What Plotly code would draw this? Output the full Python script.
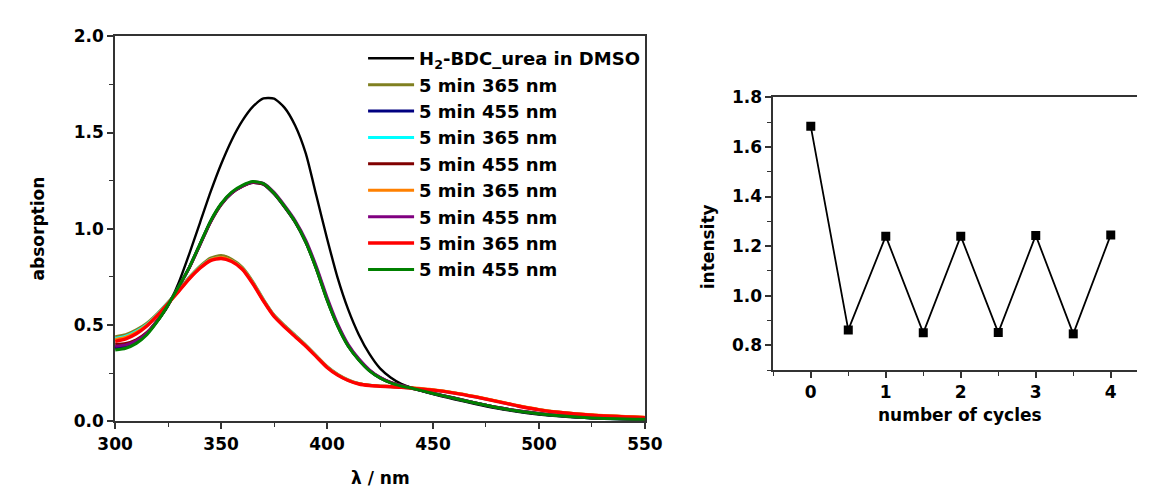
import plotly.graph_objects as go

# ---------------- data: UV-vis spectra ----------------
wavelength = [300, 305, 310, 315, 320, 325, 330, 335, 340, 345, 350, 355, 360, 365, 370,
              375, 380, 385, 390, 395, 400, 405, 410, 415, 420, 425, 430, 435, 440, 450,
              460, 470, 480, 490, 500, 510, 525, 550]

abs_dmso = [0.380, 0.390, 0.415, 0.455, 0.520, 0.600, 0.720, 0.870, 1.030, 1.190, 1.335, 1.460, 1.560, 1.634, 1.677,
            1.676, 1.628, 1.535, 1.390, 1.170, 0.950, 0.745, 0.580, 0.450, 0.350, 0.275, 0.228, 0.195, 0.174, 0.142,
            0.115, 0.090, 0.068, 0.050, 0.036, 0.026, 0.016, 0.010]

abs_365_1 = [0.440, 0.450, 0.475, 0.510, 0.560, 0.618, 0.680, 0.748, 0.805, 0.848, 0.861, 0.842, 0.800, 0.725, 0.633,
             0.552, 0.497, 0.447, 0.396, 0.340, 0.285, 0.244, 0.215, 0.197, 0.188, 0.184, 0.181, 0.178, 0.173, 0.163,
             0.148, 0.128, 0.105, 0.081, 0.061, 0.047, 0.033, 0.020]

abs_455_1 = [0.385, 0.393, 0.415, 0.457, 0.524, 0.606, 0.700, 0.800, 0.918, 1.037, 1.127, 1.186, 1.221, 1.240, 1.231,
             1.182, 1.113, 1.034, 0.930, 0.792, 0.633, 0.497, 0.392, 0.320, 0.264, 0.226, 0.201, 0.185, 0.172, 0.145,
             0.120, 0.095, 0.072, 0.054, 0.040, 0.029, 0.018, 0.011]

abs_365_2 = [0.430, 0.442, 0.468, 0.504, 0.556, 0.616, 0.678, 0.744, 0.800, 0.840, 0.850, 0.834, 0.794, 0.720, 0.629,
             0.549, 0.494, 0.444, 0.393, 0.338, 0.283, 0.242, 0.213, 0.196, 0.187, 0.183, 0.180, 0.177, 0.172, 0.162,
             0.147, 0.127, 0.104, 0.080, 0.060, 0.046, 0.032, 0.019]

abs_455_2 = [0.400, 0.405, 0.424, 0.462, 0.526, 0.606, 0.698, 0.797, 0.915, 1.034, 1.125, 1.185, 1.220, 1.240, 1.232,
             1.183, 1.114, 1.035, 0.931, 0.793, 0.634, 0.498, 0.393, 0.321, 0.265, 0.227, 0.202, 0.186, 0.173, 0.146,
             0.121, 0.096, 0.073, 0.055, 0.041, 0.030, 0.019, 0.012]

abs_365_3 = [0.425, 0.437, 0.463, 0.500, 0.553, 0.614, 0.677, 0.742, 0.798, 0.839, 0.851, 0.834, 0.793, 0.718, 0.627,
             0.547, 0.492, 0.442, 0.392, 0.337, 0.282, 0.242, 0.213, 0.195, 0.187, 0.183, 0.181, 0.178, 0.174, 0.164,
             0.149, 0.129, 0.106, 0.082, 0.062, 0.048, 0.034, 0.021]

abs_455_3 = [0.390, 0.397, 0.418, 0.459, 0.524, 0.606, 0.699, 0.799, 0.917, 1.036, 1.127, 1.187, 1.222, 1.243, 1.236,
             1.189, 1.120, 1.042, 0.940, 0.803, 0.645, 0.506, 0.399, 0.325, 0.268, 0.229, 0.203, 0.186, 0.173, 0.146,
             0.121, 0.096, 0.073, 0.055, 0.041, 0.030, 0.019, 0.012]

abs_365_4 = [0.415, 0.428, 0.455, 0.495, 0.550, 0.612, 0.675, 0.740, 0.795, 0.835, 0.846, 0.830, 0.790, 0.715, 0.625,
             0.545, 0.490, 0.440, 0.390, 0.335, 0.280, 0.240, 0.212, 0.194, 0.186, 0.182, 0.180, 0.177, 0.172, 0.162,
             0.147, 0.127, 0.104, 0.080, 0.060, 0.046, 0.032, 0.019]

abs_455_4 = [0.370, 0.380, 0.405, 0.450, 0.520, 0.605, 0.700, 0.800, 0.920, 1.040, 1.130, 1.190, 1.225, 1.245, 1.235,
             1.185, 1.115, 1.035, 0.930, 0.790, 0.630, 0.495, 0.390, 0.318, 0.262, 0.225, 0.200, 0.184, 0.172, 0.145,
             0.120, 0.095, 0.072, 0.054, 0.040, 0.029, 0.018, 0.011]

series_names = ["H<sub>2</sub>-BDC_urea in DMSO", "5 min 365 nm", "5 min 455 nm", "5 min 365 nm",
                "5 min 455 nm", "5 min 365 nm", "5 min 455 nm", "5 min 365 nm", "5 min 455 nm"]
series_values = [abs_dmso, abs_365_1, abs_455_1, abs_365_2, abs_455_2, abs_365_3, abs_455_3, abs_365_4, abs_455_4]
series_colors = ["#000000", "#808020", "#000080", "#00FFFF", "#800000", "#FF8000", "#800080", "#FF0000", "#008000"]
series_widths = [2.4, 3, 3, 3, 3, 3, 3, 3.4, 3]

# ---------------- data: switching cycles ----------------
cycles = [0, 0.5, 1, 1.5, 2, 2.5, 3, 3.5, 4]
intensity = [1.683, 0.862, 1.240, 0.850, 1.240, 0.851, 1.243, 0.846, 1.245]

# page body has an 8 px margin, so the figure is drawn 8 px smaller and shifted
OFF = 8
W, H = 1155 - OFF, 499 - OFF
FONT = "DejaVu Sans, sans-serif"
FS = 17


def px_x(p):
    return (p - OFF) / W


def px_y(p):
    return 1 - (p - OFF) / H


fig = go.Figure()
for name, vals, col, lw in zip(series_names, series_values, series_colors, series_widths):
    fig.add_trace(go.Scatter(x=wavelength, y=vals, mode="lines", name=name,
                             line=dict(color=col, width=lw, shape="spline", smoothing=0.6),
                             xaxis="x", yaxis="y"))

fig.add_trace(go.Scatter(x=cycles, y=intensity, mode="lines+markers", showlegend=False,
                         line=dict(color="black", width=1.8),
                         marker=dict(symbol="square", size=9, color="black"),
                         xaxis="x2", yaxis="y2"))

bold = dict(family=FONT, size=FS, color="black", weight="bold")
legend_font = dict(family=FONT, size=18, color="black", weight="bold")
minor_style = dict(ticks="outside", ticklen=4, tickwidth=1.4, tickcolor="#333333")
axis_common = dict(showline=True, linecolor="#333333", linewidth=1.6, ticks="outside",
                   ticklen=6, tickwidth=1.6, tickcolor="#333333", showgrid=False, zeroline=False,
                   tickfont=bold)

L_X0, L_X1, L_YT, L_YB = 100, 647, 27, 428.5
R_X0, R_YT, R_YB = 779.5, 90.7, 375

fig.update_layout(
    width=W, height=H,
    margin=dict(l=0, r=0, t=0, b=0),
    paper_bgcolor="white", plot_bgcolor="white",
    font=bold,
    xaxis=dict(axis_common, domain=[px_x(L_X0), px_x(L_X1)], range=[300, 550],
               tick0=300, dtick=50, mirror=True, anchor="y",
               minor=dict(minor_style, dtick=25)),
    yaxis=dict(axis_common, domain=[px_y(L_YB), px_y(L_YT)], range=[0, 2.0],
               tick0=0, dtick=0.5, tickformat=".1f", mirror=True, anchor="x",
               minor=dict(minor_style, dtick=0.25)),
    xaxis2=dict(axis_common, domain=[px_x(R_X0), 1.0], range=[-0.5, 4.35],
                tick0=0, dtick=1, mirror=True, anchor="y2",
                minor=dict(minor_style, dtick=0.5)),
    yaxis2=dict(axis_common, domain=[px_y(R_YB), px_y(R_YT)], range=[0.7, 1.8],
                tick0=0.8, dtick=0.2, tickformat=".1f", mirror=False, anchor="x2",
                minor=dict(minor_style, dtick=0.1)),
    legend=dict(x=px_x(356), y=px_y(31), xanchor="left", yanchor="top",
                bgcolor="rgba(0,0,0,0)", borderwidth=0, font=legend_font,
                itemwidth=46, tracegroupgap=0),
    showlegend=True,
    annotations=[
        dict(text="absorption", x=px_x(20), y=px_y((L_YT + L_YB) / 2), xref="paper", yref="paper",
             textangle=-90, showarrow=False, font=bold, xanchor="center", yanchor="middle"),
        dict(text="λ / nm", x=px_x((L_X0 + L_X1) / 2), y=px_y(488), xref="paper", yref="paper",
             showarrow=False, font=bold, xanchor="center", yanchor="middle"),
        dict(text="intensity", x=px_x(712), y=px_y(246), xref="paper", yref="paper",
             textangle=-90, showarrow=False, font=bold, xanchor="center", yanchor="middle"),
        dict(text="number of cycles", x=px_x(972), y=px_y(422), xref="paper", yref="paper",
             showarrow=False, font=bold, xanchor="center", yanchor="middle"),
    ],
)

fig.write_html("out.html")
